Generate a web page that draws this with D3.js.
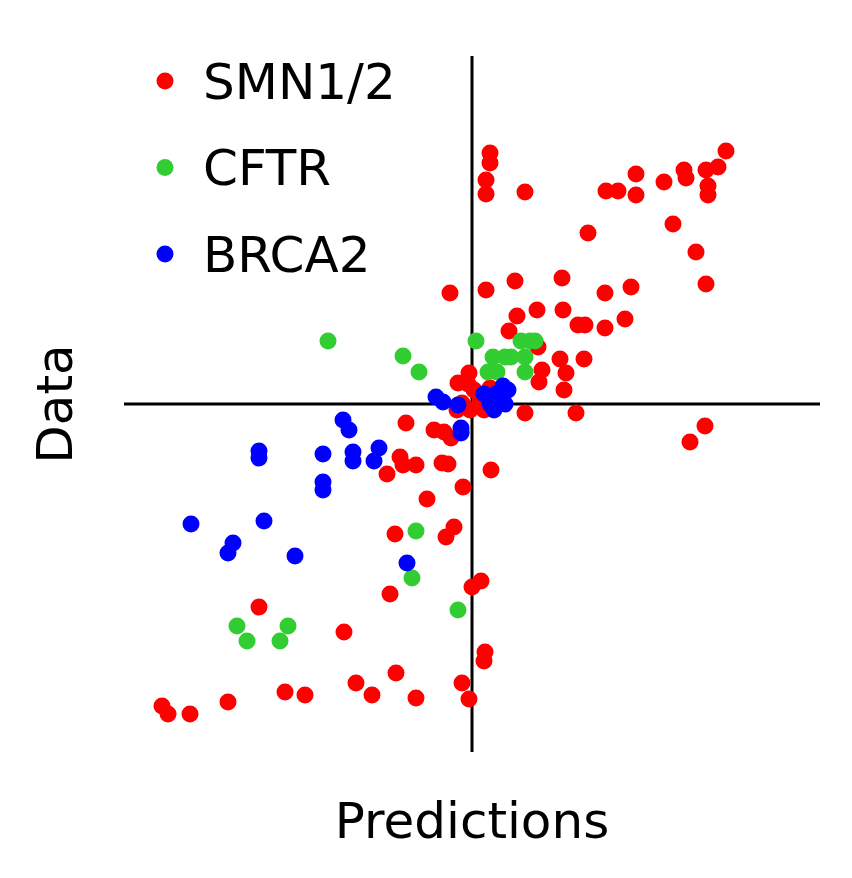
<!DOCTYPE html>
<html><head><meta charset="utf-8">
<script src="https://cdn.jsdelivr.net/npm/d3@7"></script>
<style>body{margin:0;background:#fff}</style></head>
<body><svg id="chart" width="852" height="878"></svg>
<script>
// values in arbitrary units (no ticks on the axes)
const smnX = [18,18,14,14,53,254,246,234,212,214,192,236,236,164,134,146,164,116,201,224,234,159,133,90,43,14,-22,45,65,91,37,106,113,133,153,66,112,88,94,70,67,92,-3,-14,2,-10,8,-2,12,53,104,-66,-38,-28,-21,-11,-56,-72,-69,-85,-30,-24,19,-9,-45,-18,-26,-77,9,0,-82,-213,-128,13,12,-76,-116,-187,-167,-100,-56,-10,-3,-244,-310,-304,-282,218,233,-4,18,-15];
const smnY = [251,241,224,210,212,253,237,234,234,226,222,218,209,230,213,213,209,171,180,152,120,117,111,126,123,114,111,88,94,94,73,79,79,76,85,57,45,45,31,34,22,14,31,21,14,1,4,-6,-6,-9,-9,-19,-26,-28,-34,-28,-61,-53,-61,-70,-59,-60,-66,-83,-95,-123,-133,-130,-177,-183,-190,-203,-228,-248,-257,-269,-279,-288,-291,-291,-294,-279,-295,-298,-302,-310,-310,-38,-22,20,16,-6];
const cftrX = [-144,-69,-53,4,21,33,39,53,58,49,63,16,25,53,-56,-60,-14,-235,-184,-225,-192];
const cftrY = [63,48,32,63,47,47,47,47,63,63,63,32,32,32,-127,-174,-206,-222,-222,-237,-237];
const brcaX = [-129,-123,-213,-213,-149,-119,-119,-93,-98,-149,-149,-208,-281,-239,-244,-177,-65,-36,-29,-14,-11,-11,12,24,31,36,25,18,33,22];
const brcaY = [-16,-26,-47,-54,-50,-48,-57,-44,-57,-78,-86,-117,-120,-139,-149,-152,-159,7,2,-1,-24,-29,10,10,18,14,4,0,0,-6];
const seriesNames = ["SMN1/2", "CFTR", "BRCA2"];
const seriesColors = ["#ff0000", "#32cd32", "#0000ff"];

const svg = d3.select("#chart");
const x = d3.scaleLinear().domain([-348, 348]).range([124, 820]);
const y = d3.scaleLinear().domain([-348, 348]).range([752, 56]);

// axes through the origin
svg.append("line").attr("x1", x(0)).attr("x2", x(0)).attr("y1", y(-348)).attr("y2", y(348))
    .attr("stroke", "#000").attr("stroke-width", 3);
svg.append("line").attr("x1", x(-348)).attr("x2", x(348)).attr("y1", y(0)).attr("y2", y(0))
    .attr("stroke", "#000").attr("stroke-width", 3);

const series = [[smnX, smnY], [cftrX, cftrY], [brcaX, brcaY]];
series.forEach(([xs, ys], i) => {
    svg.append("g").selectAll("circle")
        .data(xs.map((v, j) => [v, ys[j]]))
        .enter().append("circle")
        .attr("cx", d => x(d[0]))
        .attr("cy", d => y(d[1]))
        .attr("r", 8.5)
        .attr("fill", seriesColors[i]);
});

// legend
const leg = svg.append("g");
seriesNames.forEach((name, i) => {
    leg.append("circle").attr("cx", 165).attr("cy", 81 + i * 86.5).attr("r", 8.5).attr("fill", seriesColors[i]);
    leg.append("text").attr("x", 203).attr("y", 81 + i * 86.5).attr("dy", "0.35em")
        .attr("font-family", "DejaVu Sans").attr("font-size", 50).text(name);
});

svg.append("text").attr("x", 472).attr("y", 838).attr("text-anchor", "middle")
    .attr("font-family", "DejaVu Sans").attr("font-size", 50).text("Predictions");
svg.append("text").attr("transform", "translate(72,404) rotate(-90)").attr("text-anchor", "middle")
    .attr("font-family", "DejaVu Sans").attr("font-size", 50).text("Data");
</script></body></html>
